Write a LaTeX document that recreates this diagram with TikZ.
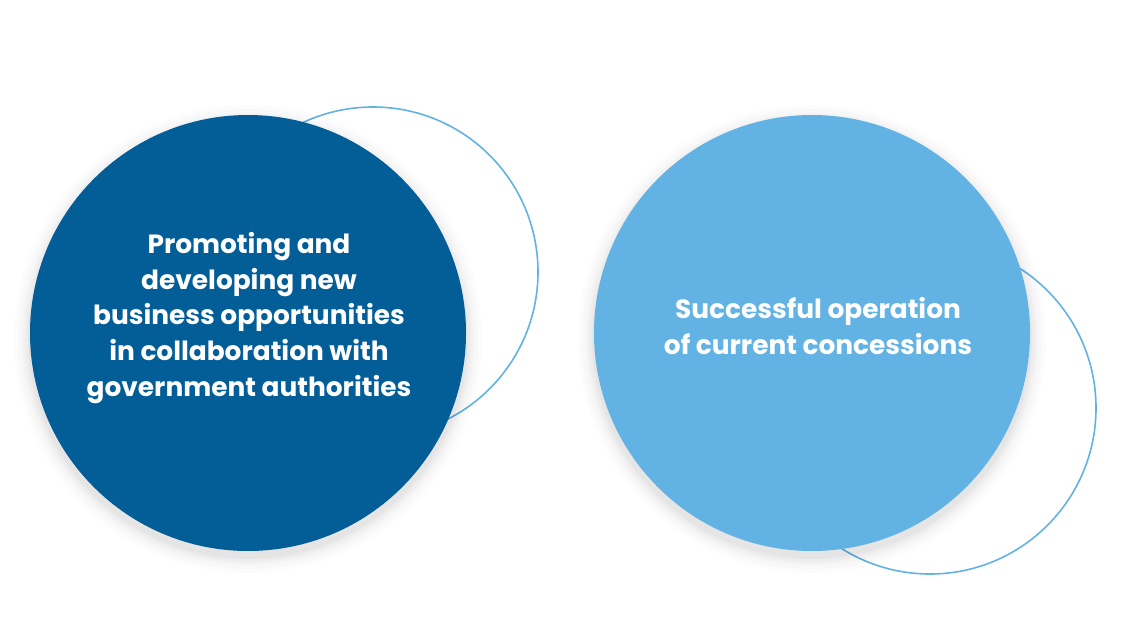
\documentclass[tikz,border=0pt]{standalone}
\usepackage{fontspec}
\setmainfont{Poppins}
\definecolor{darkblue}{HTML}{035E98}
\definecolor{lightblue}{HTML}{62B3E4}
\begin{document}
\begin{tikzpicture}[x=1pt,y=-1pt,
  ring/.style={draw=lightblue,line width=1.6pt},
  disc/.style={circle,minimum size=436pt,inner sep=0pt},
  lbl/.style={text=white,align=center,font=\fontsize{26.4}{35.7}\selectfont\bfseries}]
\useasboundingbox[fill=white] (0,0) rectangle (1126,637);
% outline rings
\node[circle,ring,minimum size=330pt,inner sep=0pt] (r1) at (373,272) {};
\node[circle,ring,minimum size=332pt,inner sep=0pt] (r2) at (930,408) {};
% soft shadows
\foreach \c in {248,812}{
  \foreach \s/\o in {16/0.012,12/0.015,8/0.02,5/0.025,2/0.03}{
    \fill[black,opacity=\o] (\c,339) circle (218+\s);
  }
}
\node[disc,fill=darkblue] (a) at (248,333) {};
\node[disc,fill=lightblue] (b) at (812,333) {};
\node[lbl] (ta) at (249,318) {Promoting and\\developing new\\business opportunities\\in collaboration with\\government authorities};
\node[lbl] (tb) at (818,326) {Successful operation\\of current concessions};
\end{tikzpicture}
\end{document}
